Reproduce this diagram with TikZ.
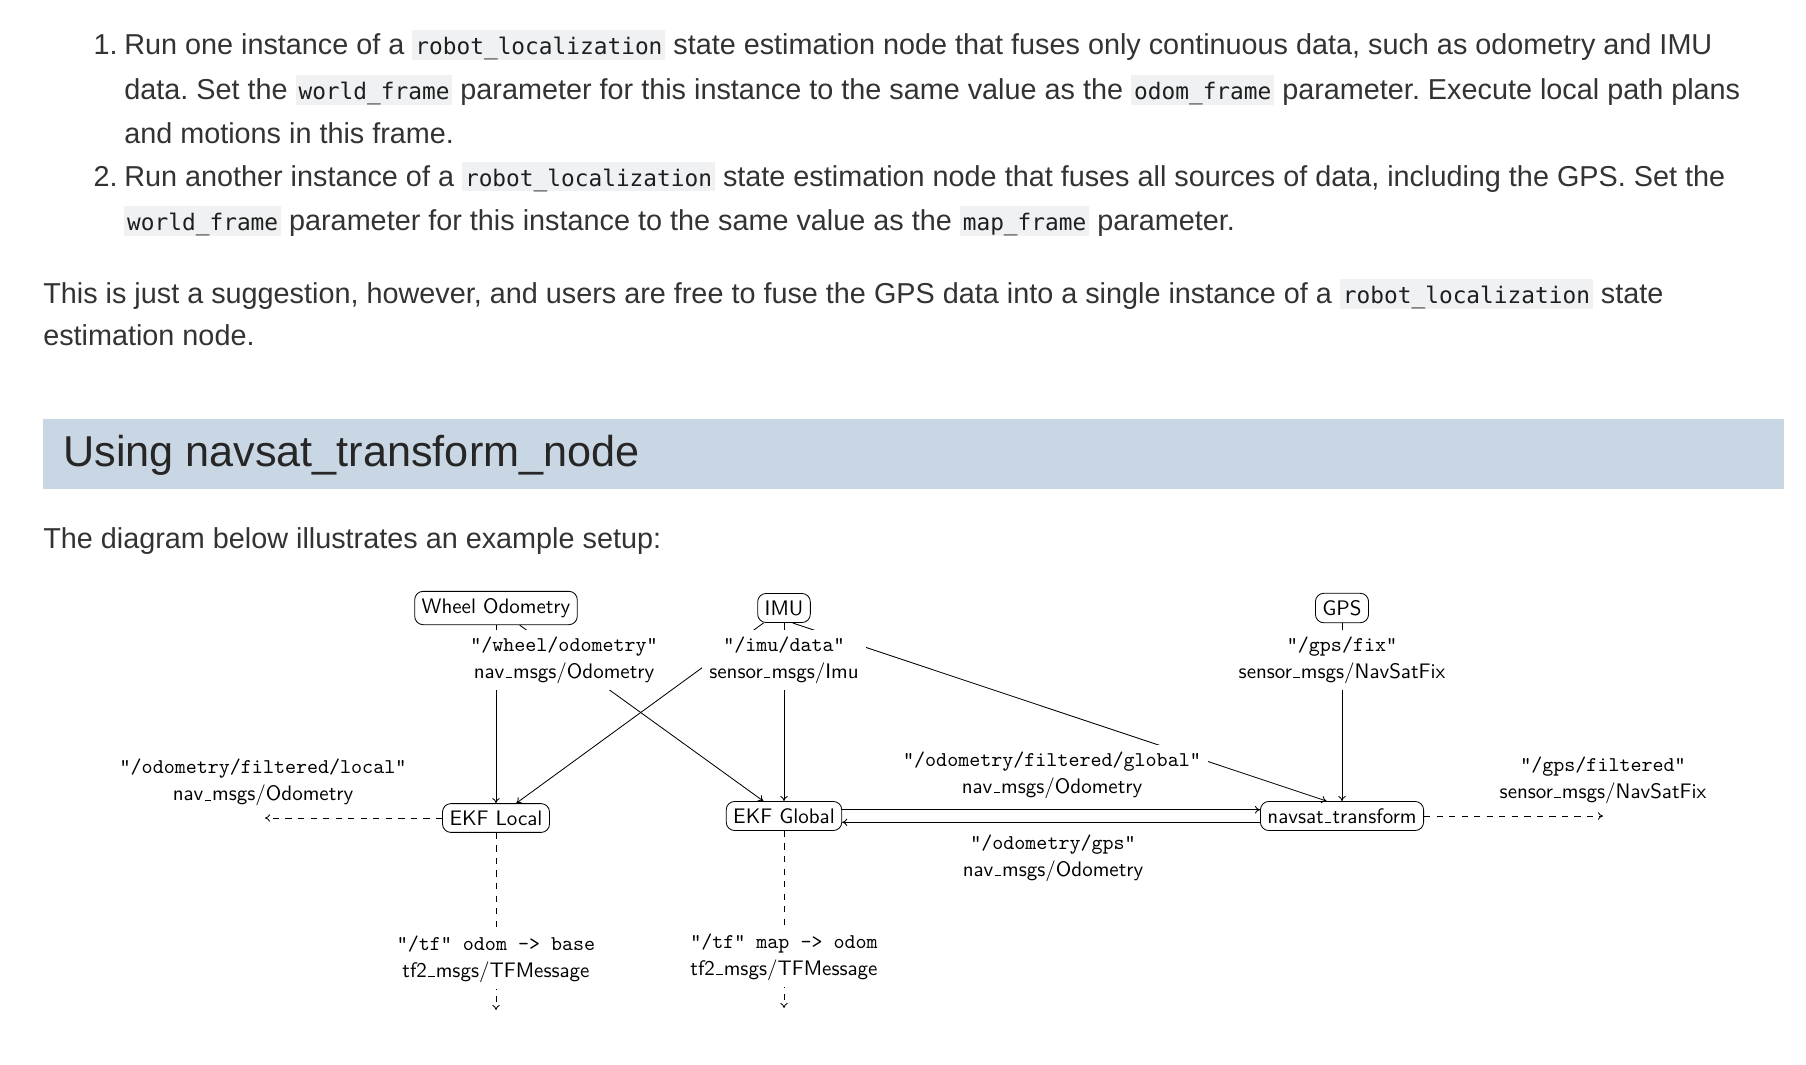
\documentclass[tikz,border=0pt]{standalone}
\usepackage{fontspec}
\setsansfont{lmsans10-regular.otf}
\setmonofont{lmmono10-regular.otf}
\newfontfamily\bodyfont{Liberation Sans}
\newfontfamily\codefont{DejaVu Sans Mono}
\usepackage{xcolor}
\usetikzlibrary{arrows.meta}
\definecolor{bodycol}{RGB}{51,51,51}
\definecolor{codebg}{RGB}{239,241,243}
\definecolor{codecol}{RGB}{30,30,30}
\definecolor{headbg}{RGB}{201,214,227}
\frenchspacing
\newcommand{\code}[1]{{\setlength{\fboxsep}{0pt}\colorbox{codebg}{\rule[-3.75pt]{0pt}{22pt}\hspace{2.2pt}{\color{codecol}\codefont\fontsize{17.1}{20}\selectfont #1}\hspace{2.2pt}}}}
% low rule as underscore in the diagram
\newcommand{\us}{\leavevmode\kern.06em\vbox{\hrule width.3em height 0.63pt}\kern.06em}
\tikzset{
  bodytext/.style={anchor=base west, inner sep=0pt, text=bodycol, font=\bodyfont\fontsize{21.6}{26}\selectfont},
  headtext/.style={anchor=base west, inner sep=0pt, text=black!85, font=\bodyfont\fontsize{32.4}{36}\selectfont},
  nodebox/.style={draw, rounded corners=6.3pt, inner sep=5.25pt, line width=0.63pt, font=\sffamily\fontsize{15.75}{20.25}\selectfont},
  topic/.style={fill=white, inner sep=5.25pt, align=center, font=\sffamily\fontsize{15.75}{20.25}\selectfont},
  flow/.style={-{To[length=3.8pt,width=5.6pt]}, line width=0.63pt},
  publine/.style={-{To[length=3.8pt,width=5.6pt]}, line width=0.63pt, dash pattern=on 4.7pt off 4.7pt}
}
\begin{document}
\begin{tikzpicture}[x=0.75pt,y=0.75pt,yscale=-1,xscale=1]
\fill [white] (0,0) rectangle (1806,1064);
\useasboundingbox (0,0) rectangle (1806,1064);

% text above the diagram
\node [bodytext] (num1) at (93.3,54.3) {1.};
\node [bodytext] (line1) at (124,54.3) {Run one instance of a \code{robot\_localization} state estimation node that fuses only continuous data, such as odometry and IMU};
\node [bodytext] (line2) at (124,99.3) {data. Set the \code{world\_frame} parameter for this instance to the same value as the \code{odom\_frame} parameter. Execute local path plans};
\node [bodytext] (line3) at (124,143) {and motions in this frame.};
\node [bodytext] (num2) at (93.3,186) {2.};
\node [bodytext] (line4) at (124,186) {Run another instance of a \code{robot\_localization} state estimation node that fuses all sources of data, including the GPS. Set the};
\node [bodytext] (line5) at (124,230.5) {\code{world\_frame} parameter for this instance to the same value as the \code{map\_frame} parameter.};
\node [bodytext] (para1) at (43,303.3) {This is just a suggestion, however, and users are free to fuse the GPS data into a single instance of a \code{robot\_localization} state};
\node [bodytext] (para2) at (43,345) {estimation node.};
\fill [headbg] (43,419) rectangle (1784,489);
\node [headtext] (heading) at (63,466.7) {Using navsat\_transform\_node};
\node [bodytext] (intro) at (43,548.3) {The diagram below illustrates an example setup:};

% diagram
\node [nodebox] (wheel) at (496,608) {Wheel Odometry};
\node [nodebox] (imu) at (784,608) {IMU};
\node [nodebox] (gps) at (1342,608) {GPS};
\node [nodebox] (ekflocal) at (496,818) {EKF Local};
\node [nodebox] (ekfglobal) at (784,816) {EKF Global};
\node [nodebox] (navsat) at (1342,816) {navsat\us transform};
\coordinate (localend) at (265,818);
\coordinate (gpsend) at (1603,816);
\coordinate (tflocalend) at (496,1010);
\coordinate (tfglobalend) at (784,1008);

\draw [flow] (wheel) -- (ekflocal);
\draw [flow] (wheel) -- (ekfglobal);
\draw [flow] (imu) -- (ekflocal);
\draw [flow] (imu) -- (ekfglobal);
\draw [flow] (imu.-60) -- ([xshift=-11.6pt]navsat.north);
\draw [flow] (gps) -- (navsat);
\draw [flow] ([yshift=-4.7pt]ekfglobal.east) -- ([yshift=-4.7pt]navsat.west);
\draw [flow] ([yshift=4.7pt]navsat.west) -- ([yshift=4.7pt]ekfglobal.east);
\draw [publine] (ekflocal) -- (localend);
\draw [publine] (navsat) -- (gpsend);
\draw [publine] (ekflocal) -- (tflocalend);
\draw [publine] (ekfglobal) -- (tfglobalend);

% topic labels
\node [topic] (wheeltopic) at (564,660) {\texttt{"/wheel/odometry"}\\nav\us msgs/Odometry};
\node [topic] (imutopic) at (784,660) {\texttt{"/imu/data"}\\sensor\us msgs/Imu};
\node [topic] (gpstopic) at (1342,660) {\texttt{"/gps/fix"}\\sensor\us msgs/NavSatFix};
\node [topic] (globaltopic) at (1052,775) {\texttt{"/odometry/filtered/global"}\\nav\us msgs/Odometry};
\node [topic] (gpsodomtopic) at (1053,858) {\texttt{"/odometry/gps"}\\nav\us msgs/Odometry};
\node [topic] (localtopic) at (263,782.5) {\texttt{"/odometry/filtered/local"}\\nav\us msgs/Odometry};
\node [topic] (gpsfilttopic) at (1603,780) {\texttt{"/gps/filtered"}\\sensor\us msgs/NavSatFix};
\node [topic] (tflocal) at (496,959) {\texttt{"/tf" odom -> base}\\tf2\us msgs/TFMessage};
\node [topic] (tfglobal) at (784,957) {\texttt{"/tf" map -> odom}\\tf2\us msgs/TFMessage};

\end{tikzpicture}
\end{document}
